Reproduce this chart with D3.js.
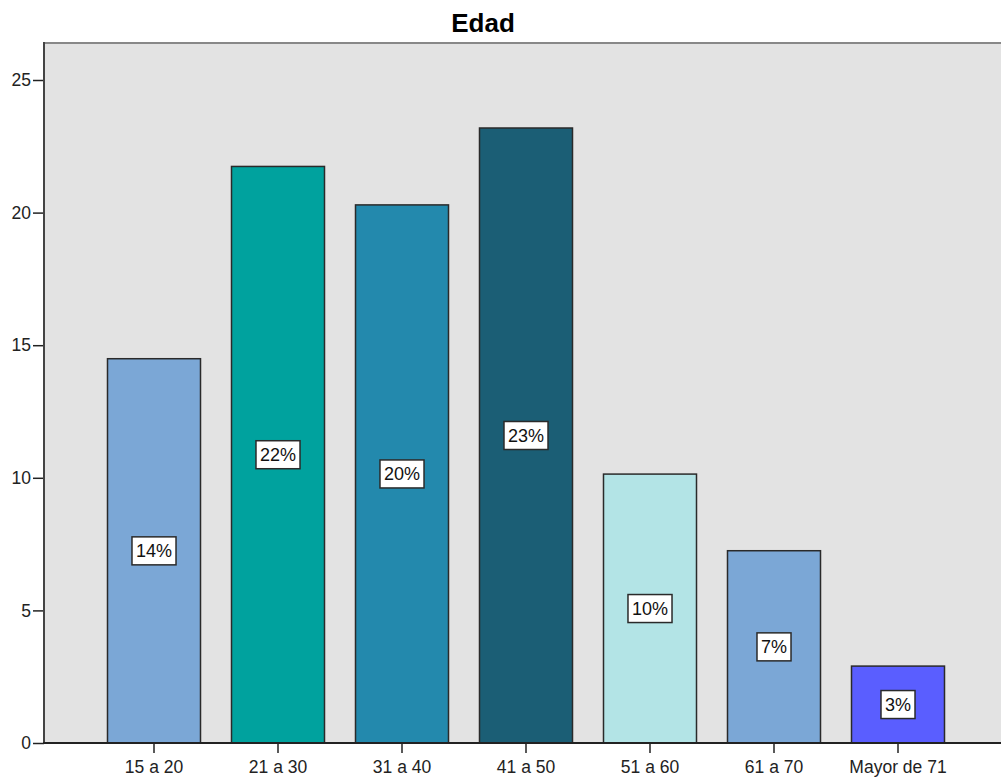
<!DOCTYPE html>
<html>
<head>
<meta charset="utf-8">
<script src="https://cdn.jsdelivr.net/npm/d3@7"></script>
<style>
  body { margin: 0; background: #ffffff; }
  svg { display: block; font-family: "Liberation Sans", Arial, sans-serif; }
</style>
</head>
<body>
<svg id="chart" width="1001" height="780"></svg>
<script>
// Age groups and their share of respondents (percent)
const categories = ["15 a 20", "21 a 30", "31 a 40", "41 a 50", "51 a 60", "61 a 70", "Mayor de 71"];
const values = [14.49, 21.74, 20.29, 23.19, 10.14, 7.25, 2.90];
const labels = ["14%", "22%", "20%", "23%", "10%", "7%", "3%"];
const colors = ["#7ba7d6", "#00a29e", "#2389ad", "#1b5e75", "#b3e4e6", "#7ba7d6", "#5a5eff"];
const yTicks = [0, 5, 10, 15, 20, 25];

const svg = d3.select("#chart");
const plot = { left: 44, top: 43, right: 1003, bottom: 743 };
const FONT = "Liberation Sans, Arial, sans-serif";

// Plot background
svg.append("rect")
  .attr("x", plot.left).attr("y", plot.top)
  .attr("width", plot.right - plot.left).attr("height", plot.bottom - plot.top)
  .attr("fill", "#e3e3e3");

// Top frame line
svg.append("line")
  .attr("x1", plot.left).attr("x2", plot.right)
  .attr("y1", plot.top).attr("y2", plot.top)
  .attr("stroke", "#888").attr("stroke-width", 2);

const x = d3.scaleBand()
  .domain(categories)
  .range([92, 960])
  .paddingInner(0.25)
  .paddingOuter(0.125);

const y = d3.scaleLinear()
  .domain([0, 25])
  .range([plot.bottom, 80]);

// Bars
svg.append("g").selectAll("rect")
  .data(categories)
  .join("rect")
  .attr("x", d => x(d))
  .attr("y", (d, i) => y(values[i]))
  .attr("width", x.bandwidth())
  .attr("height", (d, i) => y(0) - y(values[i]))
  .attr("fill", (d, i) => colors[i])
  .attr("stroke", "#2a2a2a")
  .attr("stroke-width", 1.5);

// Value labels in white boxes at mid-height of each bar
const lab = svg.append("g").selectAll("g")
  .data(categories)
  .join("g")
  .attr("transform", (d, i) => `translate(${x(d) + x.bandwidth() / 2},${y(values[i] / 2)})`);

lab.append("text")
  .attr("text-anchor", "middle")
  .attr("dy", "0.36em")
  .attr("font-size", 18)
  .attr("fill", "#111")
  .text((d, i) => labels[i])
  .each(function () {
    const b = this.getBBox();
    d3.select(this.parentNode).insert("rect", "text")
      .attr("x", b.x - 4).attr("y", -14)
      .attr("width", b.width + 8).attr("height", 28)
      .attr("fill", "#fff")
      .attr("stroke", "#2a2a2a")
      .attr("stroke-width", 1.5);
  });

// Y axis
const yAxis = svg.append("g")
  .attr("transform", `translate(${plot.left},0)`)
  .call(d3.axisLeft(y).tickValues(yTicks).tickSize(11).tickSizeOuter(0).tickPadding(2));
yAxis.select(".domain").remove();
yAxis.selectAll(".tick line").attr("stroke", "#222").attr("stroke-width", 1.5);
yAxis.selectAll(".tick text").attr("font-size", 17.5).attr("fill", "#222")
  .attr("font-family", FONT);
svg.append("line")
  .attr("x1", plot.left).attr("x2", plot.left)
  .attr("y1", plot.top - 1).attr("y2", plot.bottom + 1)
  .attr("stroke", "#444").attr("stroke-width", 2);

// X axis
const xAxis = svg.append("g")
  .attr("transform", `translate(0,${plot.bottom})`)
  .call(d3.axisBottom(x).tickSize(10).tickSizeOuter(0).tickPadding(8));
xAxis.select(".domain").remove();
xAxis.selectAll(".tick line").attr("stroke", "#222").attr("stroke-width", 1.5);
xAxis.selectAll(".tick text").attr("font-size", 17.5).attr("fill", "#222")
  .attr("font-family", FONT);
svg.append("line")
  .attr("x1", plot.left - 1).attr("x2", plot.right)
  .attr("y1", plot.bottom).attr("y2", plot.bottom)
  .attr("stroke", "#222").attr("stroke-width", 2);

// Title
svg.append("text")
  .attr("x", 483).attr("y", 32)
  .attr("text-anchor", "middle")
  .attr("font-size", 26)
  .attr("font-weight", "bold")
  .attr("font-family", FONT)
  .attr("fill", "#000")
  .text("Edad");
</script>
</body>
</html>
